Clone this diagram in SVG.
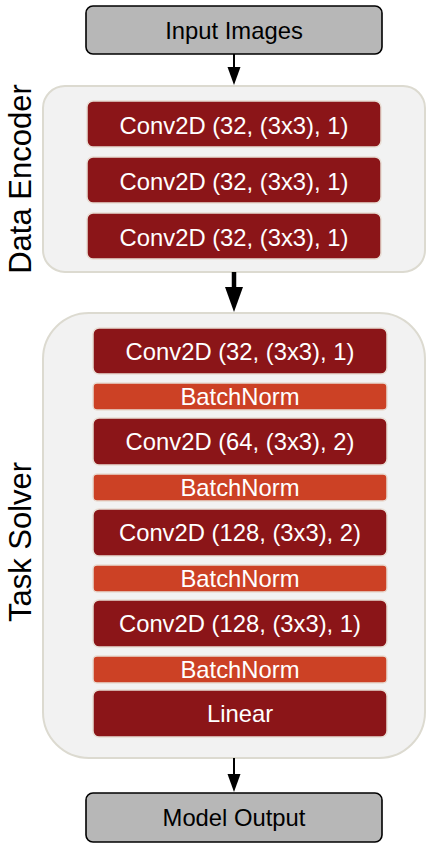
<svg xmlns="http://www.w3.org/2000/svg" width="439" height="849" viewBox="0 0 439 849">
<style>
text{font-family:"Liberation Sans",Arial,sans-serif}
.io{fill:#b7b7b7;stroke:#000;stroke-width:1.6}
.io-t{font-size:23.8px;fill:#000;text-anchor:middle}
.grp{fill:#f2f2f2;stroke:#dcdad0;stroke-width:2}
.conv{fill:#8b1518;stroke:#e8ddd4;stroke-width:1.5}
.bn{fill:#cc4125;stroke:#e8ddd4;stroke-width:1.5}
.t{font-size:23.8px;fill:#fff;text-anchor:middle}
.side{font-size:31px;fill:#000;text-anchor:middle}
.ln{stroke:#000;stroke-width:2;fill:none}
</style>
<g id="containers">
<g id="data-encoder">
<rect class="grp" x="43" y="86" width="382" height="186" rx="22"/>
<text class="side" transform="translate(31,179) rotate(-90)">Data Encoder</text>
</g>
<g id="task-solver">
<rect class="grp" x="43" y="313" width="382" height="445" rx="46"/>
<text class="side" transform="translate(31,542) rotate(-90)">Task Solver</text>
</g>
</g>
<g id="connectors">
<line class="ln" x1="234" y1="54" x2="234" y2="68"/>
<path d="M227.5,67 L240.5,67 L234,85 z" fill="#000"/>
<line x1="234" y1="272" x2="234" y2="288" stroke="#000" stroke-width="4.5"/>
<path d="M225,287 L243,287 L234,312 z" fill="#000"/>
<line class="ln" x1="234" y1="758" x2="234" y2="775"/>
<path d="M227.5,774 L240.5,774 L234,792 z" fill="#000"/>
</g>
<g id="input-images">
<rect class="io" x="86" y="6" width="296" height="48" rx="7"/>
<text class="io-t" x="234" y="39">Input Images</text>
</g>
<g id="enc-conv1">
<rect class="conv" x="87" y="101" width="294" height="46" rx="6"/>
<text class="t" x="234" y="134">Conv2D (32, (3x3), 1)</text>
</g>
<g id="enc-conv2">
<rect class="conv" x="87" y="157" width="294" height="46" rx="6"/>
<text class="t" x="234" y="190">Conv2D (32, (3x3), 1)</text>
</g>
<g id="enc-conv3">
<rect class="conv" x="87" y="213" width="294" height="46" rx="6"/>
<text class="t" x="234" y="246">Conv2D (32, (3x3), 1)</text>
</g>
<g id="ts-conv1">
<rect class="conv" x="93" y="328" width="294" height="46" rx="6"/>
<text class="t" x="240" y="360">Conv2D (32, (3x3), 1)</text>
</g>
<g id="ts-bn1">
<rect class="bn" x="93" y="383" width="294" height="27" rx="4"/>
<text class="t" x="240" y="405">BatchNorm</text>
</g>
<g id="ts-conv2">
<rect class="conv" x="93" y="418" width="294" height="47" rx="6"/>
<text class="t" x="240" y="450">Conv2D (64, (3x3), 2)</text>
</g>
<g id="ts-bn2">
<rect class="bn" x="93" y="474" width="294" height="27" rx="4"/>
<text class="t" x="240" y="495.5">BatchNorm</text>
</g>
<g id="ts-conv3">
<rect class="conv" x="93" y="509" width="294" height="47" rx="6"/>
<text class="t" x="240" y="541">Conv2D (128, (3x3), 2)</text>
</g>
<g id="ts-bn3">
<rect class="bn" x="93" y="565" width="294" height="27" rx="4"/>
<text class="t" x="240" y="586.5">BatchNorm</text>
</g>
<g id="ts-conv4">
<rect class="conv" x="93" y="600" width="294" height="47" rx="6"/>
<text class="t" x="240" y="632">Conv2D (128, (3x3), 1)</text>
</g>
<g id="ts-bn4">
<rect class="bn" x="93" y="656" width="294" height="27" rx="4"/>
<text class="t" x="240" y="677.5">BatchNorm</text>
</g>
<g id="ts-linear">
<rect class="conv" x="93" y="690" width="294" height="47" rx="6"/>
<text class="t" x="240" y="722">Linear</text>
</g>
<g id="model-output">
<rect class="io" x="86" y="793" width="296" height="49" rx="7"/>
<text class="io-t" x="234" y="826">Model Output</text>
</g>
</svg>
